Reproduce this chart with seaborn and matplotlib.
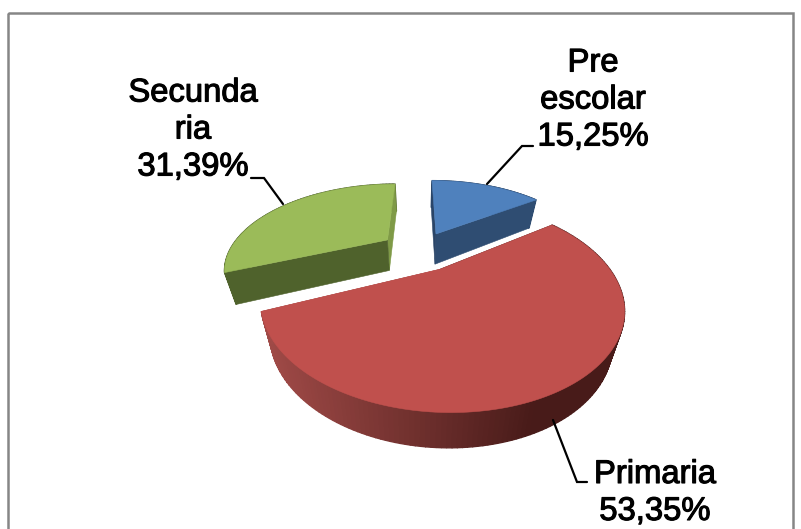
import numpy as np
import matplotlib
matplotlib.use("Agg")
import matplotlib.pyplot as plt
import matplotlib.patheffects as pe
from matplotlib.patches import Polygon, Rectangle
from matplotlib.colors import to_rgb
import seaborn as sns

categories = ["Pre\nescolar", "Primaria", "Secunda\nria"]
percent_labels = ["15,25%", "53,35%", "31,39%"]
values = [15.25, 53.35, 31.39]

top_colors = sns.color_palette(["#4f81bd", "#c0504d", "#9bbb59"])
cut_start_colors = ["#2f4d72", "#a04a47", "#7f9a47"]
cut_end_colors = ["#2a4568", "#4a1c1a", "#4f622c"]
wall_left = ["#2f4d72", "#a04a47", "#4f622c"]
wall_right = ["#2f4d72", "#481b19", "#4f622c"]

sns.set_theme(style="white")
plt.rcParams["font.family"] = ["Liberation Sans", "DejaVu Sans"]

W, H = 801, 529
fig = plt.figure(figsize=(W / 100, H / 100), dpi=100, facecolor="white")
ax = fig.add_axes([0, 0, 1, 1])

wedges, _ = ax.pie(values, explode=[0.25] * 3, startangle=90, counterclock=False, radius=1)
segments = [(w.center, w.r, w.theta1, w.theta2) for w in wedges]
for w in wedges:
    w.remove()
ax.set_aspect("auto")
ax.set_xlim(0, W)
ax.set_ylim(H, 0)
ax.axis("off")

CX, CY, SX, SY, K = 419, 250.5, 158, 80, 0.327


def project(x, y):
    d = 1 + K * y
    return CX + SX * x / d, CY - SY * y / d


def lower(px, py, y):
    return CX + (px - CX) * 0.94, py + 31 - 3.5 * y


def wall_colour(i, px):
    t = np.clip((px - 265) / (535 - 265), 0, 1)
    a, b = np.array(to_rgb(wall_left[i])), np.array(to_rgb(wall_right[i]))
    return tuple(a + (b - a) * t)


ax.add_patch(Rectangle((8, 12.5), 785, 600, fill=False, ec="#868686", lw=1.8, zorder=1))

layer = {2: 0, 0: 1, 1: 2}
for i in [2, 0, 1]:
    (ox, oy), r, t1, t2 = segments[i]
    th = np.radians(np.linspace(t1, t2, 160))
    xs = ox + r * np.cos(th)
    ys = oy + r * np.sin(th)
    px, py = project(xs, ys)
    lx, ly = lower(px, py, ys)
    tipx, tipy = project(ox, oy)
    ltx, lty = lower(tipx, tipy, oy)
    z = 3 + layer[i] * 3
    for j in range(len(th) - 1):
        c = wall_colour(i, px[j])
        ax.add_patch(Polygon([(px[j], py[j]), (px[j + 1], py[j + 1]), (lx[j + 1], ly[j + 1]), (lx[j], ly[j])],
                             fc=c, ec=c, lw=1.0, zorder=z))
    for j, col in zip((0, -1), (cut_start_colors[i], cut_end_colors[i])):
        ax.add_patch(Polygon([(tipx, tipy), (px[j], py[j]), (lx[j], ly[j]), (ltx, lty)],
                             fc=col, ec=col, lw=0.4, zorder=z + 1))
    ax.add_patch(Polygon(np.r_[[[tipx, tipy]], np.c_[px, py]], fc=top_colors[i], ec=top_colors[i],
                         lw=0.4, zorder=z + 2))

stroke = [pe.withStroke(linewidth=0.8, foreground="black")]
label_pos = [(593, 100), (655, 493), (193, 130)]
for name, pct, (x, y) in zip(categories, percent_labels, label_pos):
    ax.text(x, y, name + "\n" + pct, ha="center", va="center", fontsize=23.6, color="black",
            linespacing=1.25, path_effects=stroke, zorder=20)

leaders = [([533, 522, 487], [146, 146, 184]),
           ([587, 577, 553], [482, 482, 420]),
           ([251, 264, 283], [178, 178, 204])]
for lxs, lys in leaders:
    ax.plot(lxs, lys, color="black", lw=1.6, zorder=15, solid_joinstyle="miter")

fig.savefig("out.png", dpi=100)
